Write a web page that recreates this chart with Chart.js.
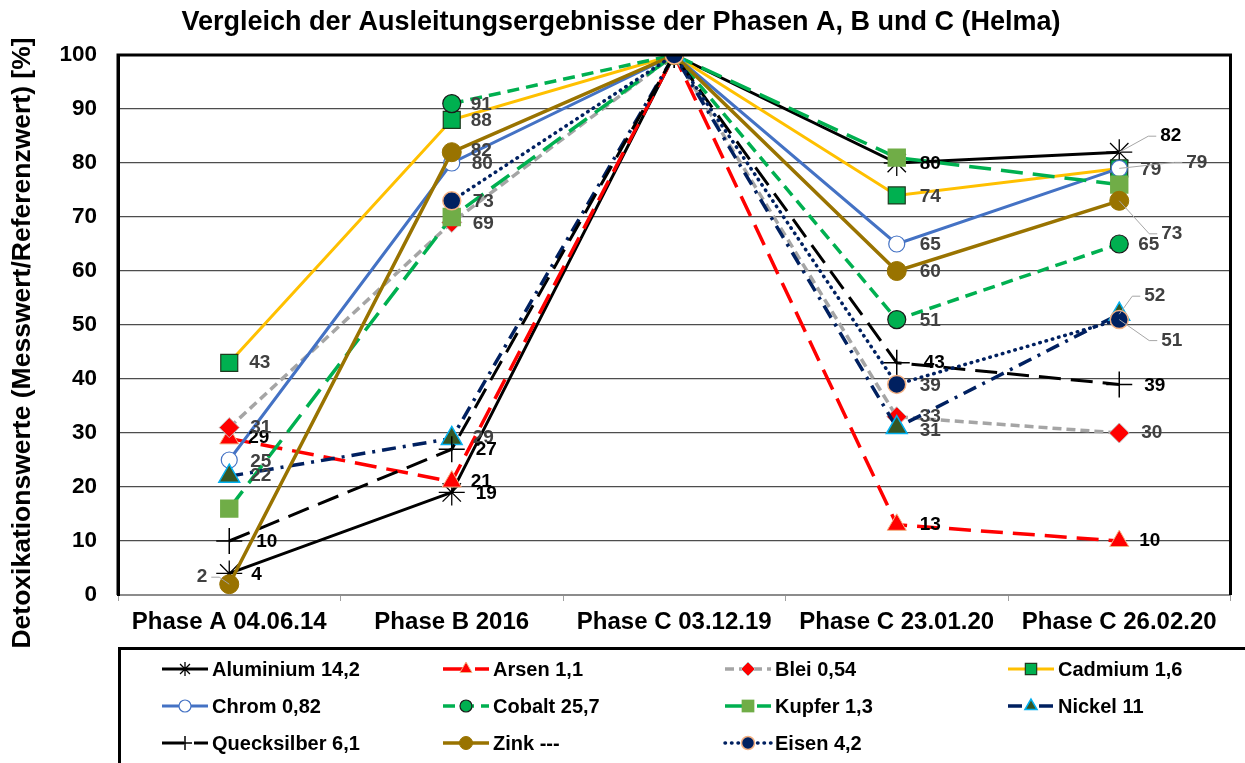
<!DOCTYPE html>
<html>
<head>
<meta charset="utf-8">
<script src="https://cdn.jsdelivr.net/npm/chart.js@4.4.1/dist/chart.umd.min.js"></script>
<style>
  body { margin: 0; background: #fff; }
</style>
</head>
<body>
<canvas id="chart" width="1245" height="763"></canvas>
<script>
// values (Detoxikationswerte in %)
const phases = ['Phase A 04.06.14', 'Phase B 2016', 'Phase C 03.12.19', 'Phase C 23.01.20', 'Phase C 26.02.20'];
const yTicks = [0, 10, 20, 30, 40, 50, 60, 70, 80, 90, 100];

const aluminium   = [4, 19, 100, 80, 82];
const arsen       = [29, 21, 100, 13, 10];
const blei        = [31, 69, 100, 33, 30];
const cadmium     = [43, 88, 100, 74, 79];
const chrom       = [25, 80, 100, 65, 79];
const cobalt      = [null, 91, 100, 51, 65];
const kupfer      = [16, 70, 100, 81, 76];
const nickel      = [22, 29, 100, 31, 52];
const quecksilber = [10, 27, 100, 43, 39];
const zink        = [2, 82, 100, 60, 73];
const eisen       = [null, 73, 100, 39, 51];

const seriesNames = ['Aluminium 14,2', 'Arsen 1,1', 'Blei 0,54', 'Cadmium 1,6', 'Chrom 0,82', 'Cobalt 25,7',
                     'Kupfer 1,3', 'Nickel 11', 'Quecksilber 6,1', 'Zink ---', 'Eisen 4,2'];

const yTitle = 'Detoxikationswerte (Messwert/Referenzwert) [%]';
const FONT = '"Liberation Sans", Arial, sans-serif';

// label placement per point: [dx, dy, leader]; null = no label
const labelPlace = {
  'Aluminium 14,2':  [[22, 1], [24, 1], null, [23, 1], [41, -16, 1]],
  'Arsen 1,1':       [[19, -1], [19, 0], null, [23, 0], [20, 0]],
  'Blei 0,54':       [[21, 0], [21, 1], null, [23, 0], [22, 0]],
  'Cadmium 1,6':     [[20, 0], [19, 1], null, [23, 1], [21, 1]],
  'Chrom 0,82':      [[21, 2], [20, 1], null, [23, 1], [67, -6, 1]],
  'Cobalt 25,7':     [null, [19, 1], null, [23, 1], [19, 1]],
  'Kupfer 1,3':      [null, null, null, null, null],
  'Nickel 11':       [[21, 0], [21, -1], null, [23, 3], [25, -18, 1]],
  'Quecksilber 6,1': [[27, 1], [24, 1], null, [27, 0], [25, 1]],
  'Zink ---':        [[-22, -7, 1], [19, -1], null, [23, 1], [42, 33, 1]],
  'Eisen 4,2':       [null, [21, 1], null, [23, 1], [42, 21, 1]]
};

function mk(i, data, line, pt) {
  return Object.assign({
    label: seriesNames[i],
    data: data,
    borderWidth: 3.5,
    borderDash: [],
    tension: 0,
    spanGaps: false,
    order: 20 - i,
    labelColor: '#404040'
  }, line, pt);
}

const datasets = [
  mk(0, aluminium, { borderColor: '#000000', borderWidth: 3, labelColor: '#000000' },
     { pointStyle: 'star', pointRadius: 13, pointBackgroundColor: '#000', pointBorderColor: '#000', pointBorderWidth: 1.3, legendRadius: 7 }),
  mk(1, arsen, { borderColor: '#FF0000', borderDash: [22, 10], labelColor: '#000000' },
     { pointStyle: 'triangle', pointRadius: 11, pointBackgroundColor: '#FF0000', pointBorderColor: '#F4B183', pointBorderWidth: 1, legendRadius: 7 }),
  mk(2, blei, { borderColor: '#A5A5A5', borderDash: [9, 5] },
     { pointStyle: 'rectRot', pointRadius: 10, pointBackgroundColor: '#FF0000', pointBorderColor: '#BFBFBF', pointBorderWidth: 1, legendRadius: 7 }),
  mk(3, cadmium, { borderColor: '#FFC000', borderWidth: 3 },
     { pointStyle: 'rect', pointRadius: 12, pointBackgroundColor: '#00B050', pointBorderColor: '#1E3A1E', pointBorderWidth: 1.2, legendRadius: 8 }),
  mk(4, chrom, { borderColor: '#4472C4', borderWidth: 3 },
     { pointStyle: 'circle', pointRadius: 8, pointBackgroundColor: '#FFFFFF', pointBorderColor: '#4472C4', pointBorderWidth: 1.2, legendRadius: 6 }),
  mk(5, cobalt, { borderColor: '#00B050', borderDash: [12, 7] },
     { pointStyle: 'circle', pointRadius: 9, pointBackgroundColor: '#00B050', pointBorderColor: '#1A1A1A', pointBorderWidth: 1.2, legendRadius: 6 }),
  mk(6, kupfer, { borderColor: '#00B050', borderDash: [22, 10] },
     { pointStyle: 'rect', pointRadius: 13, pointBackgroundColor: '#70AD47', pointBorderColor: '#70AD47', pointBorderWidth: 0, legendRadius: 9 }),
  mk(7, nickel, { borderColor: '#002060', borderDash: [14, 7, 3, 7] },
     { pointStyle: 'triangle', pointRadius: 12, pointBackgroundColor: '#375623', pointBorderColor: '#00B0F0', pointBorderWidth: 1.5, legendRadius: 7 }),
  mk(8, quecksilber, { borderColor: '#000000', borderWidth: 3, borderDash: [22, 10], labelColor: '#000000' },
     { pointStyle: 'cross', pointRadius: 13, pointBackgroundColor: '#000', pointBorderColor: '#000', pointBorderWidth: 1.5, legendRadius: 7 }),
  mk(9, zink, { borderColor: '#997300', borderWidth: 3.5 },
     { pointStyle: 'circle', pointRadius: 9.5, pointBackgroundColor: '#997300', pointBorderColor: '#997300', pointBorderWidth: 1, legendRadius: 6.5 }),
  mk(10, eisen, { borderColor: '#002060', borderDash: [0.5, 6], borderCapStyle: 'round' },
     { pointStyle: 'circle', pointRadius: 9, pointBackgroundColor: '#002060', pointBorderColor: '#F4B183', pointBorderWidth: 1.5, legendRadius: 6.5 })
];

// value labels with optional leader lines
const valueLabels = {
  id: 'valueLabels',
  afterDatasetsDraw(chart) {
    const ctx = chart.ctx;
    ctx.save();
    ctx.font = 'bold 19px ' + FONT;
    ctx.textBaseline = 'middle';
    chart.data.datasets.forEach((ds, i) => {
      const place = labelPlace[ds.label];
      const meta = chart.getDatasetMeta(i);
      meta.data.forEach((pt, j) => {
        const v = ds.data[j];
        const p = place && place[j];
        if (v == null || !p) return;
        const tx = pt.x + p[0], ty = pt.y + p[1];
        const left = p[0] < 0;
        if (p[2]) {
          ctx.strokeStyle = '#A6A6A6';
          ctx.lineWidth = 1;
          ctx.setLineDash([]);
          ctx.beginPath();
          ctx.moveTo(pt.x, pt.y);
          const ex = left ? tx + 4 : tx - 4;
          ctx.lineTo(left ? ex + 8 : ex - 8, ty);
          ctx.lineTo(ex, ty);
          ctx.stroke();
        }
        ctx.fillStyle = ds.labelColor;
        ctx.textAlign = left ? 'right' : 'left';
        ctx.fillText(String(v), tx, ty);
      });
    });
    ctx.restore();
  }
};

// plot frame (top/left/right thick), y title and the boxed legend below
const frameAndLegend = {
  id: 'frameAndLegend',
  afterDraw(chart) {
    const ctx = chart.ctx;
    const a = chart.chartArea;
    ctx.save();
    ctx.setLineDash([]);
    ctx.strokeStyle = '#000';
    ctx.lineWidth = 3;
    ctx.beginPath();
    ctx.moveTo(a.left, a.bottom);
    ctx.lineTo(a.left, a.top);
    ctx.lineTo(a.right, a.top);
    ctx.lineTo(a.right, a.bottom);
    ctx.stroke();

    // y axis title, a bit lower than the plot centre like the original
    ctx.save();
    ctx.translate(23, 343);
    ctx.rotate(-Math.PI / 2);
    ctx.font = 'bold 26.5px ' + FONT;
    ctx.fillStyle = '#000';
    ctx.textAlign = 'center';
    ctx.textBaseline = 'middle';
    ctx.fillText(yTitle, 0, 0);
    ctx.restore();

    // legend box
    ctx.strokeRect(119.5, 648.5, 1140, 130);

    const cols = [162, 443, 725, 1008];
    const rows = [669, 706, 743];
    ctx.font = 'bold 20px ' + FONT;
    ctx.textBaseline = 'middle';
    ctx.textAlign = 'left';
    chart.data.datasets.forEach((ds, i) => {
      const x = cols[i % 4], y = rows[Math.floor(i / 4)];
      ctx.save();
      ctx.strokeStyle = ds.borderColor;
      ctx.lineWidth = ds.borderWidth;
      ctx.lineCap = ds.borderCapStyle || 'butt';
      ctx.setLineDash(ds.borderDash || []);
      ctx.beginPath();
      ctx.moveTo(x, y);
      ctx.lineTo(x + 46, y);
      ctx.stroke();
      ctx.setLineDash([]);
      ctx.fillStyle = ds.pointBackgroundColor;
      ctx.strokeStyle = ds.pointBorderColor;
      ctx.lineWidth = ds.pointBorderWidth;
      Chart.helpers.drawPoint(ctx, {
        pointStyle: ds.pointStyle, radius: ds.legendRadius,
        borderWidth: ds.pointBorderWidth, rotation: 0
      }, x + 23, y);
      ctx.restore();
      ctx.fillStyle = '#000';
      ctx.fillText(ds.label, x + 50, y + 1);
    });
    ctx.restore();
  }
};

new Chart(document.getElementById('chart'), {
  type: 'line',
  data: { labels: phases, datasets: datasets },
  plugins: [valueLabels, frameAndLegend],
  options: {
    responsive: false,
    animation: false,
    events: [],
    layout: { padding: { left: 0, right: 3, top: 0, bottom: 115 } },
    plugins: {
      legend: { display: false },
      tooltip: { enabled: false },
      title: {
        display: true,
        text: 'Vergleich der Ausleitungsergebnisse der Phasen A, B und C (Helma)',
        color: '#000',
        font: { family: FONT, size: 27, weight: 'bold' },
        padding: { top: 6, bottom: 16.6 }
      }
    },
    scales: {
      x: {
        type: 'category',
        offset: true,
        afterFit(scale) { scale.height = 53; },
        grid: {
          display: true, drawOnChartArea: false, drawTicks: true,
          tickLength: 6, offset: true, color: '#A0A0A0', lineWidth: 1
        },
        border: { display: true, color: '#8C8C8C', width: 2 },
        ticks: {
          color: '#000', padding: 7,
          font: { family: FONT, size: 24, weight: 'bold' }
        }
      },
      y: {
        min: 0,
        max: 100,
        afterFit(scale) { scale.width = 118; },
        afterBuildTicks(scale) { scale.ticks = yTicks.map(v => ({ value: v })); },
        grid: {
          drawTicks: false,
          color: (c) => c.tick && c.tick.value === 0 ? '#8C8C8C' : '#4D4D4D',
          lineWidth: (c) => c.tick && c.tick.value === 0 ? 2 : 1.3
        },
        border: { display: true, color: '#000', width: 3 },
        ticks: {
          color: '#000', padding: 21,
          font: { family: FONT, size: 22.5, weight: 'bold' }
        },
        title: { display: false }
      }
    }
  }
});
</script>
</body>
</html>
